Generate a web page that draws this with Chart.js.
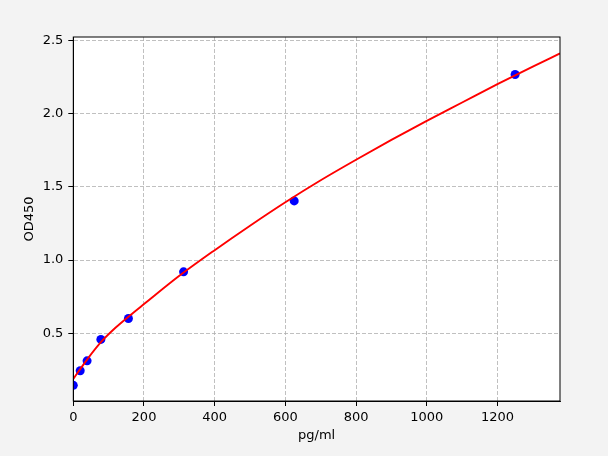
<!DOCTYPE html>
<html>
<head>
<meta charset="utf-8">
<script src="https://cdn.jsdelivr.net/npm/chart.js@4.4.1/dist/chart.umd.min.js"></script>
<style>
  html, body { margin: 0; padding: 0; background: #f3f3f3; }
  #wrap { width: 608px; height: 456px; }
</style>
</head>
<body>
<div id="wrap"><canvas id="myChart" width="608" height="456"></canvas></div>
<script>
// standard points (pg/ml, OD450)
var stdConc = [0, 19.5, 39, 78, 156, 312, 625, 1250];
var stdOD = [0.146, 0.245, 0.313, 0.459, 0.602, 0.92, 1.404, 2.266];

// fitted curve
var fitConc = [0, 20, 40, 80, 120, 160, 200, 300, 400, 500, 600, 700, 800, 900, 1000, 1100, 1200, 1300, 1377];
var fitOD = [0.19, 0.258, 0.325, 0.445, 0.54, 0.622, 0.70, 0.893, 1.068, 1.235, 1.395, 1.545, 1.685, 1.82, 1.95, 2.075, 2.2, 2.32, 2.41];

// axis ticks
var xTicks = [0, 200, 400, 600, 800, 1000, 1200];
var yTicks = [0.5, 1.0, 1.5, 2.0, 2.5];
var xRange = [0, 1377];
var yRange = [0.039, 2.522];

var fitPoints = [];
for (var i = 0; i < fitConc.length; i++) {
    fitPoints.push({x: fitConc[i], y: fitOD[i]});
}
var stdPoints = [];
for (var i = 0; i < stdConc.length; i++) {
    stdPoints.push({x: stdConc[i], y: stdOD[i]});
}

// 배경 + 테두리
var framePlugin = {
    id: 'frame',
    beforeDraw: function(chart) {
        var ctx = chart.ctx;
        var a = chart.chartArea;
        ctx.save();
        ctx.fillStyle = '#f3f3f3';
        ctx.fillRect(0, 0, chart.width, chart.height);
        ctx.fillStyle = '#ffffff';
        ctx.fillRect(a.left, a.top, a.right - a.left, a.bottom - a.top);
        ctx.restore();
    },
    afterDraw: function(chart) {
        var ctx = chart.ctx;
        var a = chart.chartArea;
        ctx.save();
        ctx.setLineDash([]);
        ctx.strokeStyle = '#000000';
        ctx.lineWidth = 1;
        ctx.strokeRect(a.left, a.top, a.right - a.left, a.bottom - a.top);
        ctx.restore();
    }
};

Chart.defaults.font.family = 'DejaVu Sans';
Chart.defaults.font.size = 13;
Chart.defaults.color = '#000000';

var ctx = document.getElementById('myChart').getContext('2d');
var myChart = new Chart(ctx, {
    type: 'scatter',
    data: {
        datasets: [{
            label: 'fit',
            data: fitPoints,
            showLine: true,
            borderColor: '#ff0000',
            backgroundColor: '#ff0000',
            borderWidth: 1.9,
            pointRadius: 0,
            cubicInterpolationMode: 'monotone',
            order: 0
        }, {
            label: 'std',
            data: stdPoints,
            showLine: false,
            backgroundColor: '#0000ff',
            borderColor: '#0000ff',
            borderWidth: 0,
            pointRadius: 4.5,
            order: 1
        }]
    },
    plugins: [framePlugin],
    options: {
        responsive: false,
        animation: false,
        devicePixelRatio: 1,
        layout: {
            padding: {left: 22, top: 37, right: 48, bottom: 9}
        },
        plugins: {
            legend: {display: false},
            tooltip: {enabled: false}
        },
        scales: {
            x: {
                type: 'linear',
                min: xRange[0],
                max: xRange[1],
                afterBuildTicks: function(scale) {
                    scale.ticks = xTicks.map(function(v) { return {value: v}; });
                },
                afterFit: function(scale) {
                    scale.height = 46;
                },
                ticks: {
                    padding: 4,
                    callback: function(v) { return String(v); }
                },
                grid: {
                    color: '#b0b0b0',
                    lineWidth: 0.8,
                    tickLength: 5,
                    tickColor: '#000000',
                    tickWidth: 1,
                    tickBorderDash: []
                },
                border: {display: true, color: '#000000', width: 1, dash: [4, 2]},
                title: {
                    display: true,
                    text: 'pg/ml',
                    padding: {top: 4, bottom: 4}
                }
            },
            y: {
                type: 'linear',
                min: yRange[0],
                max: yRange[1],
                afterBuildTicks: function(scale) {
                    scale.ticks = yTicks.map(function(v) { return {value: v}; });
                },
                afterFit: function(scale) {
                    scale.width = 51.3;
                },
                ticks: {
                    padding: 5,
                    callback: function(v) { return v.toFixed(1); }
                },
                grid: {
                    color: '#b0b0b0',
                    lineWidth: 0.8,
                    tickLength: 5,
                    tickColor: '#000000',
                    tickWidth: 1,
                    tickBorderDash: []
                },
                border: {display: true, color: '#000000', width: 1, dash: [4, 2]},
                title: {
                    display: true,
                    text: 'OD450',
                    padding: 0
                }
            }
        }
    }
});
</script>
</body>
</html>
